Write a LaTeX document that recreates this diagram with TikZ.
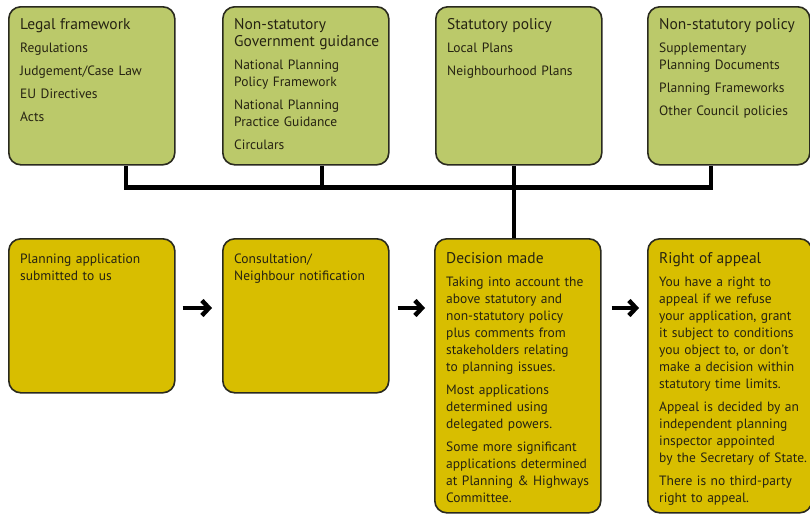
\documentclass[tikz,border=0pt]{standalone}
\usepackage{fontspec}
\setmainfont{PT Sans}
\usetikzlibrary{arrows.meta,calc}
\definecolor{topgreen}{HTML}{BBC96A}
\definecolor{mustard}{HTML}{D8BE00}
\definecolor{edge}{HTML}{2A2A1E}
\definecolor{ink}{HTML}{262312}
\newcommand{\ttl}[1]{{\fontsize{15.5}{17}\selectfont\strut #1}\par}
\begin{document}
\begin{tikzpicture}[x=1pt,y=-1pt,
  box/.style={draw=edge, line width=1.6pt, rounded corners=12pt, anchor=north west, inner sep=0pt, minimum width=166pt},
  gbox/.style={box, fill=topgreen, minimum height=158pt},
  ybox/.style={box, fill=mustard},
  txt/.style={anchor=north west, inner sep=0pt, text width=175pt, align=left, text=ink,
    font=\fontsize{13.5}{17}\selectfont, execute at begin node={\setlength{\parskip}{6pt}\strut}},
  link/.style={line width=4.5pt, black},
  flow/.style={line width=4.5pt, black, -{Straight Barb[length=7pt,width=15pt]}}
]
\useasboundingbox (0,0) rectangle (810,514);
% top row
\node[gbox] (b1) at (8,6) {};
\node[gbox] (b2) at (222,6) {};
\node[gbox] (b3) at (435,6) {};
\node[gbox, minimum width=162pt] (b4) at (647,6) {};
\node[txt] (b1t) at (20,17) {\ttl{Legal framework}Regulations\par Judgement/Case Law\par EU Directives\par Acts};
\node[txt] (b2t) at (234,17) {\ttl{Non-statutory\\Government guidance}National Planning\\Policy Framework\par National Planning\\Practice Guidance\par Circulars};
\node[txt] (b3t) at (447,17) {\ttl{Statutory policy}Local Plans\par Neighbourhood Plans};
\node[txt] (b4t) at (659,17) {\ttl{Non-statutory policy}Supplementary\\Planning Documents\par Planning Frameworks\par Other Council policies};
% bottom row
\node[ybox, minimum height=154pt] (c1) at (8,238) {};
\node[ybox, minimum height=154pt] (c2) at (222,238) {};
\node[ybox, minimum height=274pt] (c3) at (434,238) {};
\node[ybox, minimum height=274pt, minimum width=164pt] (c4) at (647,238) {};
\node[txt] (c1t) at (20,251) {Planning application\\submitted to us};
\node[txt] (c2t) at (234,251) {Consultation/\\Neighbour notification};
\node[txt] (c3t) at (446,251) {\ttl{Decision made}Taking into account the\\above statutory and\\non-statutory policy\\plus comments from\\stakeholders relating\\to planning issues.\par Most applications\\determined using\\delegated powers.\par Some more significant\\applications determined\\at Planning \& Highways\\Committee.};
\node[txt] (c4t) at (659,251) {\ttl{Right of appeal}You have a right to\\appeal if we refuse\\your application, grant\\it subject to conditions\\you object to, or don't\\make a decision within\\statutory time limits.\par Appeal is decided by an\\independent planning\\inspector appointed\\by the Secretary of State.\par There is no third-party\\right to appeal.};
% connectors
\coordinate (p1) at ($(b1.south west)+(118,0)$);
\coordinate (p2) at ($(b2.south west)+(100,0)$);
\coordinate (p3) at ($(b3.south west)+(79,0)$);
\coordinate (p4) at ($(b4.south west)+(64,0)$);
\coordinate (bar1) at ($(p1)+(0,22)$);
\coordinate (bar4) at ($(p4)+(0,22)$);
\draw[link] (p1) -- (bar1) -- (bar4) -- (p4);
\draw[link] (p2) -- (p2 |- bar1);
\draw[link] (p3) -- (p3 |- c3.north);
% flow arrows
\draw[flow] ($(c1.north east)+(7,70)$) -- ($(c2.north west)+(-10,70)$);
\draw[flow] ($(c2.north east)+(8,70)$) -- ($(c3.north west)+(-9,70)$);
\draw[flow] ($(c3.north east)+(10,70)$) -- ($(c4.north west)+(-8,70)$);
\end{tikzpicture}
\end{document}
